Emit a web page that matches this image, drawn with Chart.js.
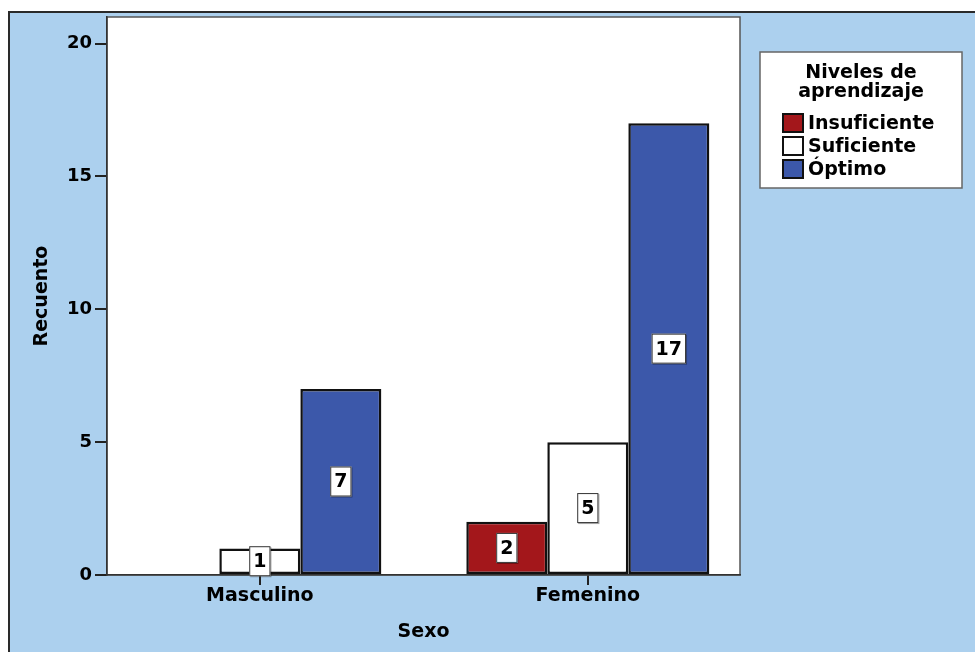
<!DOCTYPE html>
<html lang="es">
<head>
<meta charset="UTF-8">
<title>Niveles de aprendizaje por sexo</title>
<script src="https://cdn.jsdelivr.net/npm/chart.js"></script>
<style>
    body { margin: 0; background: #fff; }
    canvas { display: block; }
</style>
</head>
<body>
<canvas id="grafico" width="975" height="652"></canvas>
<script>
// datos del recuento
const categorias = ['Masculino', 'Femenino'];
const niveles = ['Insuficiente', 'Suficiente', 'Óptimo'];
const insuficiente = [0, 2];
const suficiente = [1, 5];
const optimo = [7, 17];
const ticksY = [0, 5, 10, 15, 20];

const colores = ['#a3171b', '#ffffff', '#3c58aa'];
const fuente = 'DejaVu Sans';

// fondo azul, marco exterior y area de trazado blanca
const fondo = {
    id: 'fondo',
    beforeDraw(chart) {
        const ctx = chart.ctx, a = chart.chartArea;
        ctx.save();
        ctx.fillStyle = '#ffffff';
        ctx.fillRect(0, 0, chart.width, chart.height);
        ctx.fillStyle = '#acd0ee';
        ctx.fillRect(9, 12, chart.width, chart.height);
        ctx.strokeStyle = '#2a2a2a';
        ctx.lineWidth = 2;
        ctx.beginPath();
        ctx.moveTo(9, chart.height);
        ctx.lineTo(9, 12);
        ctx.lineTo(chart.width, 12);
        ctx.stroke();
        ctx.fillStyle = '#ffffff';
        ctx.fillRect(a.left, a.top, a.right - a.left, a.bottom - a.top);
        ctx.strokeStyle = '#555';
        ctx.lineWidth = 1.5;
        ctx.strokeRect(a.left, a.top, a.right - a.left, a.bottom - a.top);
        ctx.restore();
    }
};

// etiquetas con el valor dentro de cada barra
const etiquetas = {
    id: 'etiquetas',
    afterDatasetsDraw(chart) {
        const ctx = chart.ctx;
        ctx.save();
        ctx.font = 'bold 19px "' + fuente + '"';
        ctx.textAlign = 'center';
        ctx.textBaseline = 'middle';
        chart.data.datasets.forEach((ds, i) => {
            chart.getDatasetMeta(i).data.forEach((bar, j) => {
                const v = ds.data[j];
                if (!v) return;
                const txt = String(v);
                const w = ctx.measureText(txt).width + 8;
                const h = 30;
                const cx = bar.x, cy = (bar.y + bar.base) / 2;
                ctx.fillStyle = 'rgba(0,0,0,0.35)';
                ctx.fillRect(cx - w / 2 + 1, cy - h / 2 + 1, w, h);
                ctx.fillStyle = '#fff';
                ctx.fillRect(cx - w / 2, cy - h / 2, w, h);
                ctx.strokeStyle = '#333';
                ctx.lineWidth = 1;
                ctx.strokeRect(cx - w / 2 + 0.5, cy - h / 2 + 0.5, w - 1, h - 1);
                ctx.fillStyle = '#000';
                ctx.fillText(txt, cx, cy + 1);
            });
        });
        ctx.restore();
    }
};

// leyenda en recuadro a la derecha
const leyenda = {
    id: 'leyenda',
    afterDraw(chart) {
        const ctx = chart.ctx;
        const x = 760, y = 52, w = 202, h = 136;
        ctx.save();
        ctx.fillStyle = '#fff';
        ctx.fillRect(x, y, w, h);
        ctx.strokeStyle = '#666';
        ctx.lineWidth = 1.5;
        ctx.strokeRect(x, y, w, h);
        ctx.fillStyle = '#000';
        ctx.font = 'bold 19px "' + fuente + '"';
        ctx.textAlign = 'center';
        ctx.textBaseline = 'middle';
        ctx.fillText('Niveles de', x + w / 2, 73);
        ctx.fillText('aprendizaje', x + w / 2, 92);
        ctx.textAlign = 'left';
        chart.data.datasets.forEach((ds, i) => {
            const cy = 123 + i * 23;
            ctx.fillStyle = ds.backgroundColor;
            ctx.fillRect(783, cy - 9, 20, 18);
            ctx.strokeStyle = '#111';
            ctx.lineWidth = 2;
            ctx.strokeRect(783, cy - 9, 20, 18);
            ctx.fillStyle = '#000';
            ctx.fillText(ds.label, 808, cy + 1);
        });
        ctx.restore();
    }
};

new Chart(document.getElementById('grafico'), {
    type: 'bar',
    data: {
        labels: categorias,
        datasets: [insuficiente, suficiente, optimo].map((d, i) => ({
            label: niveles[i],
            data: d,
            backgroundColor: colores[i],
            borderColor: '#111',
            borderWidth: 2.5,
            borderSkipped: false,
            categoryPercentage: 0.741,
            barPercentage: 1
        }))
    },
    options: {
        responsive: false,
        animation: false,
        events: [],
        layout: { padding: { left: 0, top: 17, right: 235, bottom: 0 } },
        plugins: { legend: { display: false }, tooltip: { enabled: false } },
        scales: {
            x: {
                afterFit: s => { s.height = 77; },
                afterBuildTicks: s => {
                    // grupos algo mas separados que el reparto por defecto
                    s._startValue = -0.466;
                    s._valueRange = 1.93;
                },
                grid: { drawOnChartArea: false, offset: false, tickLength: 10, color: '#222', lineWidth: 2 },
                border: { color: '#333', width: 1.5 },
                ticks: { color: '#000', padding: 0, font: { family: fuente, size: 19, weight: 'bold' } },
                title: {
                    display: true, text: 'Sexo', color: '#000',
                    padding: { top: 0, bottom: 8.6 },
                    font: { family: fuente, size: 19, weight: 'bold' }
                }
            },
            y: {
                min: 0,
                max: 21,
                afterFit: s => { s.width = 107; },
                afterBuildTicks: s => { s.ticks = ticksY.map(v => ({ value: v })); },
                grid: { drawOnChartArea: false, tickLength: 12, color: '#222', lineWidth: 2 },
                border: { color: '#333', width: 1.5 },
                ticks: { color: '#000', padding: 3, font: { family: fuente, size: 18, weight: 'bold' } },
                title: {
                    display: true, text: 'Recuento', color: '#000',
                    padding: { top: 31, bottom: 0 },
                    font: { family: fuente, size: 19, weight: 'bold' }
                }
            }
        }
    },
    plugins: [fondo, etiquetas, leyenda]
});
</script>
</body>
</html>
